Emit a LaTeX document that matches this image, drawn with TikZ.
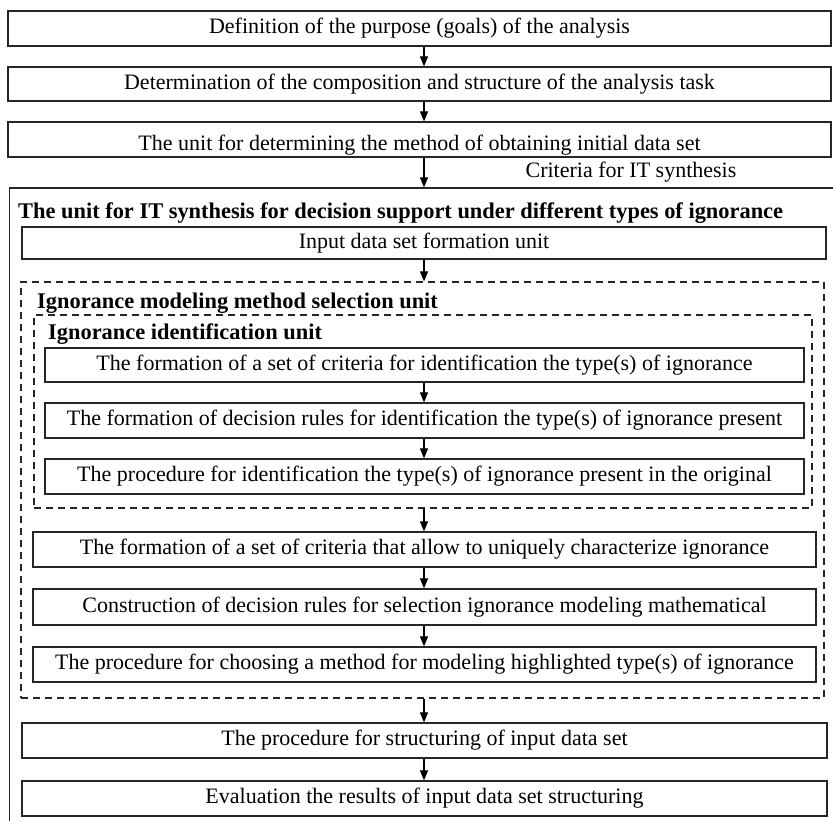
\documentclass[tikz,border=0pt]{standalone}
\usepackage{fontspec}
\setmainfont{Liberation Serif}
\usetikzlibrary{arrows.meta}
\begin{document}
\begin{tikzpicture}[x=1pt,y=-1pt,
  box/.style={draw=black!85,line width=1.3pt,rectangle,inner sep=0pt,fill=none},
  dbox/.style={draw=black!85,line width=1.3pt,dash pattern=on 7pt off 5pt,rectangle,inner sep=0pt},
  txt/.style={inner sep=0pt,font=\fontsize{22}{26}\selectfont},
  ttl/.style={inner sep=0pt,anchor=west,font=\fontsize{22.4}{26}\selectfont\bfseries},
  arr/.style={line width=1.2pt,-{Triangle[length=10pt,width=8pt]}}]
\useasboundingbox (0,0) rectangle (833,821);
\clip (0,0) rectangle (833,821);
\fill[white] (0,0) rectangle (833,821);
\coordinate (ax) at (424,0);
% top chain
\node[box,minimum width=823pt,minimum height=35pt] (b1) at (419.5,28.5) {};
\node[txt] (t1) at (b1.center) {Definition of the purpose (goals) of the analysis};
\node[box,minimum width=823pt,minimum height=34pt] (b2) at (419.5,84) {};
\node[txt] (t2) at (b2.center) {Determination of the composition and structure of the analysis task};
\node[box,minimum width=823pt,minimum height=35pt] (b3) at (419.5,139.5) {};
\node[txt] (t3) at ([yshift=-5.5pt]b3.center) {The unit for determining the method of obtaining initial data set};
% outer synthesis unit (clipped at right and bottom)
\node[box,minimum width=840pt,minimum height=652pt] (syn) at (429.5,514) {};
\node[txt] (crit) at (631,172) {Criteria for IT synthesis};
\node[ttl] (synt) at (18,213) {The unit for IT synthesis for decision support under different types of ignorance};
\node[box,minimum width=804pt,minimum height=32pt] (inp) at (424,243) {};
\node[txt] at (inp.center) {Input data set formation unit};
% selection unit
\node[dbox,minimum width=803pt,minimum height=416pt] (sel) at (422.5,490) {};
\node[ttl] (selt) at (37,303) {Ignorance modeling method selection unit};
\node[dbox,minimum width=778pt,minimum height=193pt] (idu) at (423,411.5) {};
\node[ttl] (idt) at (48,334) {Ignorance identification unit};
\node[box,minimum width=759pt,minimum height=34pt] (i1) at (424.5,365) {};
\node[txt] at (i1.center) {The formation of a set of criteria for identification the type(s) of ignorance};
\node[box,minimum width=759pt,minimum height=35pt] (i2) at (424.5,420.5) {};
\node[txt] at (i2.center) {The formation of decision rules for identification the type(s) of ignorance present};
\node[box,minimum width=759pt,minimum height=35pt] (i3) at (424.5,476.5) {};
\node[txt] at (i3.center) {The procedure for identification the type(s) of ignorance present in the original};
\node[box,minimum width=783pt,minimum height=35pt] (m1) at (424.5,549.5) {};
\node[txt] at (m1.center) {The formation of a set of criteria that allow to uniquely characterize ignorance};
\node[box,minimum width=783pt,minimum height=36pt] (m2) at (424.5,607) {};
\node[txt] at (m2.center) {Construction of decision rules for selection ignorance modeling mathematical};
\node[box,minimum width=783pt,minimum height=35pt] (m3) at (424.5,664.5) {};
\node[txt] at (m3.center) {The procedure for choosing a method for modeling highlighted type(s) of ignorance};
\node[box,minimum width=805pt,minimum height=35pt] (s1) at (424.5,740.5) {};
\node[txt] at (s1.center) {The procedure for structuring of input data set};
\node[box,minimum width=805pt,minimum height=35pt] (s2) at (424.5,798.5) {};
\node[txt] at (s2.center) {Evaluation the results of input data set structuring};
% arrows
\draw[arr] (b1.south -| ax) -- (b2.north -| ax);
\draw[arr] (b2.south -| ax) -- (b3.north -| ax);
\draw[arr] (b3.south -| ax) -- (syn.north -| ax);
\draw[arr] (inp.south -| ax) -- (sel.north -| ax);
\draw[arr] (i1.south -| ax) -- (i2.north -| ax);
\draw[arr] (i2.south -| ax) -- (i3.north -| ax);
\draw[arr] (idu.south -| ax) -- (m1.north -| ax);
\draw[arr] (m1.south -| ax) -- (m2.north -| ax);
\draw[arr] (m2.south -| ax) -- (m3.north -| ax);
\draw[arr] (sel.south -| ax) -- (s1.north -| ax);
\draw[arr] (s1.south -| ax) -- (s2.north -| ax);
\end{tikzpicture}
\end{document}
